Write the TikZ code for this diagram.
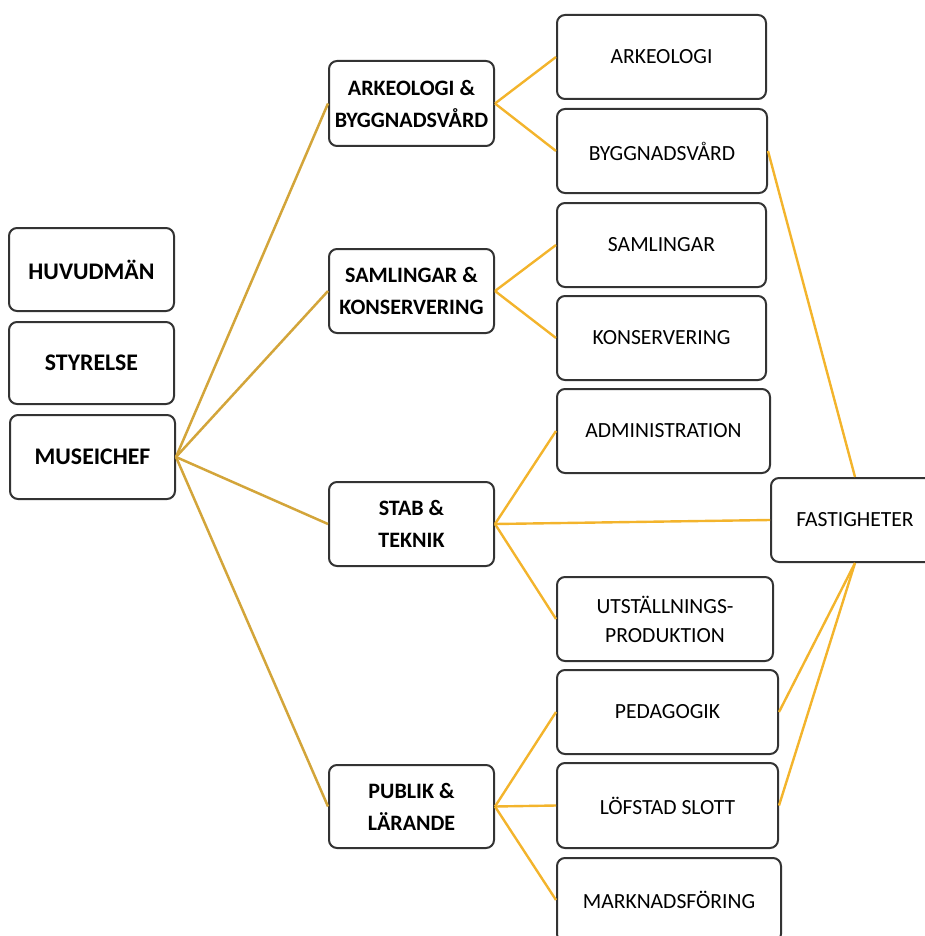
\documentclass[tikz,border=0pt]{standalone}
\usepackage{fontspec}
\setmainfont{Carlito}
\usepackage{tikz}
\definecolor{trunkgold}{HTML}{D3A53A}
\definecolor{branchgold}{HTML}{F3B42C}
\definecolor{boxline}{HTML}{333333}
\tikzset{
    box/.style={draw=boxline, line width=2pt, rounded corners=8pt, fill=white,
        inner sep=0pt, align=center, minimum height=84pt},
    top/.style={box, font=\fontsize{23.8}{33}\selectfont\bfseries, minimum width=165pt},
    head/.style={box, font=\fontsize{22}{32}\selectfont\bfseries, minimum width=165pt},
    unit/.style={box, font=\fontsize{21.6}{29}\selectfont},
    trunk/.style={draw=trunkgold, line width=2.5pt},
    branch/.style={draw=branchgold, line width=2.4pt},
}

\begin{document}
\begin{tikzpicture}[x=1pt, y=-1pt]
    \useasboundingbox (0, 0) rectangle (924, 936);
    \node[top, minimum height=83pt](huv)at(91.5, 269.5){HUVUDMÄN};
    \node[top, minimum height=82pt](sty)at(91.5, 363){STYRELSE};
    \node[top](chef)at(92.5, 457){MUSEICHEF};
    \node[head, minimum height=85pt](arkbyg)at(411.5, 103.5){ARKEOLOGI \&\\BYGGNADSVÅRD};
    \node[head](samkon)at(411.5, 291){SAMLINGAR \&\\KONSERVERING};
    \node[head](stab)at(411.5, 524){STAB \&\\TEKNIK};
    \node[head, minimum height=83pt](publ)at(411.5, 806.5){PUBLIK \&\\LÄRANDE};
    \node[unit, minimum width=209pt](ark)at(661.5, 57){ARKEOLOGI};
    \node[unit, minimum width=210pt](byg)at(662, 151){BYGGNADSVÅRD};
    \node[unit, minimum width=209pt](sam)at(661.5, 245){SAMLINGAR};
    \node[unit, minimum width=209pt](kon)at(661.5, 338){KONSERVERING};
    \node[unit, minimum width=213pt](adm)at(663.5, 431){ADMINISTRATION};
    \node[unit, minimum width=216pt](utst)at(665, 619){UTSTÄLLNINGS-\\PRODUKTION};
    \node[unit, minimum width=168pt](fast)at(855, 520){FASTIGHETER};
    \node[unit, minimum width=221pt](ped)at(667.5, 712){PEDAGOGIK};
    \node[unit, minimum width=221pt, minimum height=85pt](lof)at(667.5, 805.5){LÖFSTAD SLOTT};
    \node[unit, minimum width=224pt](mark)at(669, 900){MARKNADSFÖRING};
    \draw[trunk](chef.east)--(arkbyg.west);
    \draw[trunk](chef.east)--(samkon.west);
    \draw[trunk](chef.east)--(stab.west);
    \draw[trunk](chef.east)--(publ.west);
    \draw[branch](arkbyg.east)--(ark.west);
    \draw[branch](arkbyg.east)--(byg.west);
    \draw[branch](samkon.east)--(sam.west);
    \draw[branch](samkon.east)--(kon.west);
    \draw[branch](stab.east)--(adm.west);
    \draw[branch](stab.east)--(utst.west);
    \draw[branch](stab.east)--(fast.west);
    \draw[branch](publ.east)--(ped.west);
    \draw[branch](publ.east)--(lof.west);
    \draw[branch](publ.east)--(mark.west);
    \draw[branch](byg.east)--(fast.north);
    \draw[branch](ped.east)--(fast.south);
    \draw[branch](lof.east)--(fast.south);
\end{tikzpicture}
\end{document}
